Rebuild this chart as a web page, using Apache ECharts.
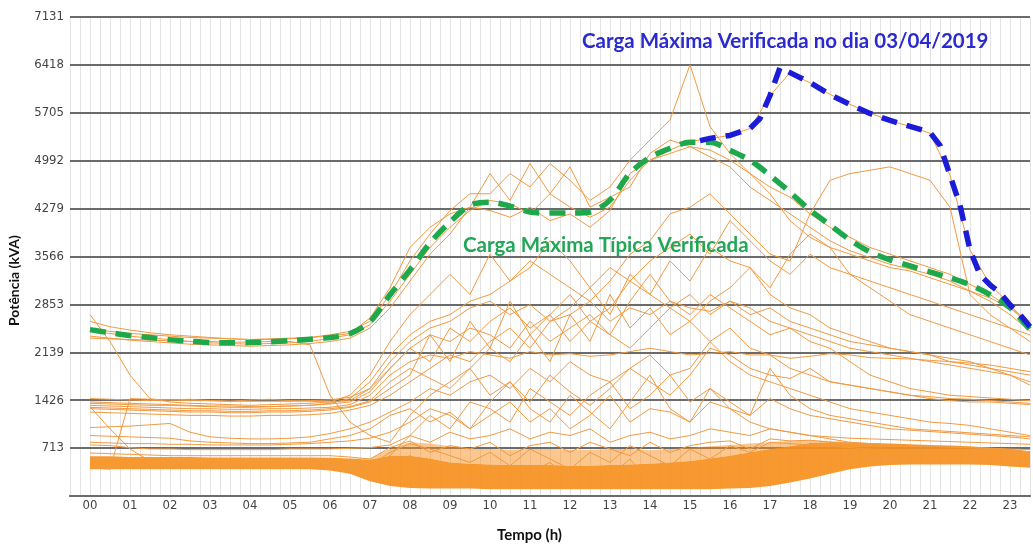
<!DOCTYPE html>
<html><head><meta charset="utf-8">
<script src="https://cdn.jsdelivr.net/npm/echarts@6/dist/echarts.min.js"></script>
<style>html,body{margin:0;padding:0;background:#fff}#c{width:1033px;height:547px}</style>
</head><body><div id="c"></div>
<script>
// Hour tick labels (x) and potency tick labels (y)
const hourLabels = ['00','01','02','03','04','05','06','07','08','09','10','11','12','13','14','15','16','17','18','19','20','21','22','23'];
const yTickLabels = ['', '713', '1426', '2139', '2853', '3566', '4279', '4992', '5705', '6418', '7131'];

// Half-hourly samples (00:00, 00:30, ... 23:30), kVA
const typicalMax = [2477,2430, 2388,2358, 2328,2305, 2284,2280, 2284,2295, 2313,2335, 2358,2417, 2595,2996, 3366,3767, 4078,4330, 4375,4316, 4227,4212, 4212,4227, 4405,4805, 5042,5176, 5265,5265, 5146,4998, 4775,4523, 4256,4034, 3811,3633, 3515,3426, 3337,3248, 3144,2996, 2803,2477];

// Max day 03/04/2019 (visible part), own time stamps
const maxDayTimes  = [15.25, 15.5, 16.0, 16.5, 16.75, 17.0, 17.25, 17.5, 18.0, 18.5, 19.0, 19.5, 20.0, 20.5, 21.0, 21.25, 21.5, 21.75, 22.0, 22.25, 22.5, 22.75, 23.0, 23.25, 23.5];
const maxDayValues = [5290, 5324, 5368, 5472, 5620, 5962, 6377, 6303, 6154, 5976, 5828, 5695, 5591, 5502, 5413, 5220, 4775, 4330, 3663, 3292, 3144, 3025, 2847, 2699, 2521];

// Daily curves (orange), half-hourly
const dayA = [2600,2520, 2470,2430, 2400,2380, 2360,2340, 2330,2340, 2350,2360, 2400,2450, 2600,3000, 3500,3900, 4250,4500, 4500,4800, 4600,4950, 4700,4400, 4600,5000, 5300,5600, 6418,5500, 5100,4800, 4600,4450, 4200,4000, 3850,3700, 3600,3500, 3400,3300, 3150,3000, 2800,2550];
const dayB = [2450,2420, 2380,2350, 2330,2300, 2280,2270, 2260,2270, 2280,2300, 2350,2400, 2550,2900, 3300,3700, 4000,4250, 4400,4350, 4200,4500, 4300,4150, 4300,4700, 5000,5150, 5280,5320, 5370,5470, 5960,6300, 6150,5980, 5830,5700, 5590,5500, 5400,4775, 3660,3150, 2850,2520];
const dayC = [2380,2350, 2320,2300, 2280,2260, 2250,2240, 2230,2240, 2250,2270, 2300,2350, 2500,2800, 3200,3600, 3900,4300, 4800,4400, 4950,4500, 4900,4300, 4450,4600, 5100,5300, 5200,5050, 4900,4600, 4400,4200, 4000,3800, 3650,3550, 3450,3380, 3300,3200, 3050,2900, 2700,2450];
const dayD = [2500,2450, 2420,2400, 2380,2360, 2350,2340, 2330,2330, 2340,2360, 2380,2420, 2650,3100, 3700,4000, 4200,4300, 4250,4150, 4300,4100, 4200,4000, 4250,4800, 5000,5100, 5200,5150, 5000,4800, 4500,4100, 3850,3700, 3600,3500, 3400,3350, 3250,3150, 3050,2950, 2800,2600];
const dayE = [1400,1390, 1380,1370, 1360,1350, 1340,1340, 1330,1330, 1340,1350, 1380,1450, 1700,2100, 2400,2600, 2700,2900, 3000,3200, 3500,3300, 3100,2900, 3200,3600, 3800,4200, 4300,4500, 4200,3900, 3600,3500, 4200,4700, 4800,4850, 4900,4800, 4700,4300, 3000,2700, 2500,2300];
const dayF = [1450,1440, 1430,1420, 1430,1440, 1420,1410, 1430,1440, 1420,1410, 1400,1420, 1600,2000, 2300,2500, 2600,2800, 2900,2700, 2850,2600, 2700,2900, 2600,2800, 2700,2900, 2800,2750, 2900,2800, 2600,2500, 2400,2300, 2200,2150, 2100,2050, 2000,1950, 1900,1850, 1800,1700];
const dayG = [1350,1340, 1330,1320, 1310,1300, 1300,1290, 1290,1300, 1300,1310, 1320,1360, 1500,1800, 2000,2100, 2050,2150, 2100,2050, 2150,2100, 2120,2080, 2100,2150, 2200,2150, 2100,2120, 2150,2100, 2100,2050, 2080,2120, 2100,2060, 2050,2040, 2020,2000, 1980,1950, 1900,1850];
const dayH = [1320,1310, 1300,1290, 1280,1270, 1270,1260, 1260,1270, 1270,1280, 1300,1330, 1420,1700, 1900,1750, 1600,1900, 1500,1700, 1400,1800, 1550,1350, 1600,1900, 1700,1500, 1800,2200, 2100,1900, 1800,1750, 1900,1700, 1650,1600, 1550,1500, 1480,1450, 1440,1420, 1400,1380];
const dayI = [1380,1370, 1360,1350, 1350,1340, 1330,1320, 1320,1330, 1340,1350, 1370,1400, 1550,1900, 2200,2400, 2300,2500, 2400,2200, 2600,2300, 2500,2700, 2400,2200, 2500,2800, 3000,2700, 2900,2700, 2800,2600, 2500,2400, 2300,2250, 2200,2150, 2100,2050, 2000,1900, 1800,1650];
const dayJ = [1020,1030, 1040,1060, 1080,950, 880,860, 850,850, 860,880, 930,1000, 1100,1250, 1400,1600, 1500,1700, 1800,1600, 1900,1700, 2000,1800, 1700,1900, 2100,1800, 1900,2300, 2000,1800, 1700,1600, 1500,1400, 1300,1250, 1200,1150, 1100,1080, 1050,1000, 950,900];
const dayK = [900,890, 880,870, 860,820, 800,790, 780,780, 790,800, 850,900, 1000,1200, 1300,1100, 1250,1000, 1200,1400, 1100,1300, 1000,1200, 1500,1100, 1300,1250, 1100,1400, 1300,1200, 1450,1300, 1200,1150, 1100,1050, 1000,980, 960,940, 920,900, 880,850];
const dayL = [760,750, 720,700, 700,690, 690,690, 690,690, 700,700, 700,710, 720,760, 900,800, 950,850, 900,1000, 850,950, 900,1000, 800,900, 950,850, 900,1000, 950,900, 1000,950, 900,850, 800,780, 760,750, 740,730, 720,710, 700,690];
const dayM = [2700,2300, 1800,1450, 1400,1380, 1370,1360, 1350,1360, 1370,1380, 1400,1500, 1800,2300, 2700,3000, 3300,3000, 3600,3200, 3400,3800, 3500,3100, 3400,3200, 3500,3700, 3900,3600, 4100,3800, 3500,3300, 3600,3400, 3300,3200, 3100,3000, 2900,2800, 2700,2600, 2500,2400];
const dayN = [2350,2340, 2330,2320, 2310,2300, 2300,2290, 2290,2300, 2300,2250, 1500,1100, 900,800, 1200,1500, 1700,1900, 2200,2000, 2400,2700, 3000,2600, 2800,3200, 3000,2800, 2600,2900, 3100,3400, 3000,2800, 2700,2500, 2400,2300, 2200,2150, 2100,2000, 1950,1900, 1850,1800];
const dayO = [560,550, 550,545, 540,540, 535,535, 530,530, 530,530, 520,500, 450,650, 780,700, 600,500, 650,450, 700,550, 400,650, 500,750, 600,450, 700,550, 750,650, 800,780, 760,740, 720,700, 690,680, 670,660, 650,640, 620,600];
const dayP = [450,450, 445,440, 440,440, 435,435, 430,430, 430,430, 420,380, 300,500, 600,400, 300,250, 400,200, 350,500, 250,400, 300,550, 200,350, 450,250, 500,350, 600,550, 650,600, 580,560, 560,550, 540,540, 530,520, 510,480];
const dayQ = [640,630, 620,610, 600,600, 600,600, 600,600, 600,600, 600,580, 550,720, 820,650, 750,700, 800,600, 750,800, 650,800, 700,600, 800,650, 750,800, 820,700, 850,820, 830,800, 780,760, 760,750, 740,730, 720,710, 690,660];
const dayR = [1300,1290, 1280,1270, 1260,1250, 1250,1240, 1240,1250, 1250,1260, 1280,1320, 1400,1600, 1800,2400, 2000,2600, 2200,2900, 2400,2000, 2700,2300, 3000,2500, 2800,2400, 2600,2300, 2500,2200, 2100,1900, 1800,1700, 1650,1600, 1550,1500, 1450,1420, 1400,1400, 1380,1360];
const dayS = [1250,1240, 1230,1220, 1210,1200, 1200,1190, 1190,1200, 1200,1210, 1230,1280, 1350,1500, 1700,1900, 2100,2000, 2300,2500, 2200,2600, 2800,3100, 2700,3300, 3000,3500, 3200,3700, 3500,3400, 3100,3600, 3900,3700, 3300,3100, 2900,2700, 2600,2500, 2400,2300, 2200,2100, 2000,1900];
const dayT = [800,790, 780,780, 770,770, 760,760, 760,760, 770,780, 800,820, 860,950, 1100,1300, 1200,1000, 1400,1700, 1300,1100, 1500,1250, 1000,1400, 1800,1300, 1100,1600, 1400,1200, 1900,1500, 1300,1200, 1150,1100, 1050,1000, 980,960, 940,920, 900,880];
const dayU = [1330,1000, 700,520, 500,490, 480,480, 480,480, 480,480, 470,460, 420,600, 900,1200, 1000,1400, 1300,1100, 1600,1400, 1200,1500, 1700,1300, 1500,1800, 1400,1600, 1300,1100, 1000,950, 900,880, 860,850, 840,830, 820,810, 800,790, 780,770];
const dayV = [420,400, 1450,1440, 1430,1420, 1420,1410, 1410,1410, 1410,1420, 1430,1470, 1600,1900, 2200,2000, 2500,2300, 2600,2800, 2500,2700, 2300,2600, 2400,2900, 3300,2900, 2700,3000, 2800,2600, 2400,2500, 2300,2200, 2000,1800, 1700,1600, 1550,1500, 1480,1460, 1440,1420];

// Dense band of low-load feeders: lower edge, top of the solid core, upper edge (half-hourly)
const bandLow  = [400,400, 400,400, 400,400, 400,400, 400,400, 400,400, 380,330, 220,150, 120,110, 110,110, 100,100, 100,100, 100,100, 100,100, 100,100, 100,100, 110,120, 150,200, 260,330, 400,440, 460,470, 470,470, 470,460, 440,420];
const bandMid  = [590,590, 580,580, 580,580, 575,575, 575,575, 575,575, 570,560, 540,600, 600,560, 500,480, 470,460, 460,460, 450,450, 460,470, 480,500, 520,560, 600,650, 700,740, 790,800, 800,790, 780,770, 760,750, 740,720, 700,660];
const bandHigh = [590,590, 580,580, 580,580, 575,575, 575,575, 575,575, 570,560, 560,700, 800,780, 740,700, 700,690, 700,700, 690,690, 700,700, 680,700, 720,740, 760,780, 800,820, 830,820, 800,790, 780,770, 760,750, 740,720, 700,660];

const orangeDays = [dayA, dayB, dayC, dayD, dayE, dayF, dayG, dayH, dayI, dayJ, dayK, dayL, dayM, dayN, dayO, dayP, dayQ, dayR, dayS, dayT, dayU, dayV];
const ORANGE = '#f29a40';

const toPts = arr => arr.map((v, i) => [i * 0.5, v]);

function bandSeries(lower, upper, opacity) {
  return {
    type: 'custom', silent: true, z: 2, clip: true,
    data: [[0, 0]], encode: { x: 0, y: 1 },
    renderItem: (params, api) => {
      const pts = [];
      upper.forEach((v, i) => pts.push(api.coord([i * 0.5, v])));
      for (let i = lower.length - 1; i >= 0; i--) pts.push(api.coord([i * 0.5, lower[i]]));
      return { type: 'polygon', shape: { points: pts }, style: { fill: '#f7901e', opacity: opacity } };
    }
  };
}

const series = [];
series.push(bandSeries(bandLow, bandMid, 0.92));
series.push(bandSeries(bandMid, bandHigh, 0.5));
// all daily curves as polylines through the axes' scales
series.push({
  type: 'custom', silent: true, z: 3, clip: true,
  data: orangeDays.map((d, k) => [0, d[0], k]), encode: { x: 0, y: 1 },
  renderItem: (params, api) => {
    const d = orangeDays[params.dataIndex];
    return {
      type: 'polyline',
      shape: { points: d.map((v, i) => api.coord([i * 0.5, v])) },
      style: { stroke: ORANGE, lineWidth: 1, fill: null }
    };
  }
});
series.push({
  type: 'line', data: toPts(typicalMax), symbol: 'none', smooth: 0.3, silent: true,
  itemStyle: { color: '#1ea84c' },
  lineStyle: { color: '#1ea84c', width: 5.5, type: [16, 10] }, z: 5
});
series.push({
  type: 'line', data: maxDayTimes.map((t, i) => [t, maxDayValues[i]]), symbol: 'none', silent: true,
  itemStyle: { color: '#1c1cd6' },
  lineStyle: { color: '#1c1cd6', width: 5.5, type: [16, 10] }, z: 6
});

const chart = echarts.init(document.getElementById('c'), null, { renderer: 'canvas' });
chart.setOption({
  animation: false,
  backgroundColor: '#ffffff',
  grid: { left: 70, top: 17, width: 966, height: 479 },
  xAxis: {
    type: 'value', min: -0.5, max: 23.5, interval: 0.25, z: 0,
    axisLine: { show: true, lineStyle: { color: '#555', width: 2 } },
    axisTick: { show: false },
    splitLine: { show: true, lineStyle: { color: '#e3e3e3', width: 1 } },
    axisLabel: {
      color: '#444', fontSize: 13, fontFamily: '"Liberation Sans Narrow","DejaVu Sans Condensed",sans-serif', margin: 3,
      formatter: v => { const r = Math.round(v * 100) / 100; return (Number.isInteger(r) && r >= 0 && r < hourLabels.length) ? hourLabels[r] : ''; }
    }
  },
  yAxis: {
    type: 'value', min: 0, max: 7131, interval: 713.1, z: 1,
    axisLine: { show: false }, axisTick: { show: false },
    splitLine: { show: true, lineStyle: { color: '#6b6b6b', width: 2 } },
    axisLabel: {
      color: '#444', fontSize: 13, fontFamily: '"Liberation Sans Narrow","DejaVu Sans Condensed",sans-serif', margin: 6,
      formatter: v => yTickLabels[Math.round(v / 713.1)] || ''
    }
  },
  graphic: [
    { type: 'text', left: 582, top: 31, style: { text: 'Carga Máxima Verificada no dia 03/04/2019', fill: '#2a2ad0', font: 'bold 20.5px Lato, "Open Sans", sans-serif' }, z: 10 },
    { type: 'text', left: 463, top: 235, style: { text: 'Carga Máxima Típica Verificada', fill: '#22a657', font: 'bold 20.5px Lato, "Open Sans", sans-serif' }, z: 10 },
    { type: 'text', left: 497, top: 528, style: { text: 'Tempo (h)', fill: '#111', font: 'bold 15px Lato, "Open Sans", sans-serif' }, z: 10 },
    { type: 'text', x: 7, y: 326, rotation: Math.PI / 2, style: { text: 'Potência (kVA)', fill: '#111', font: 'bold 14px Lato, "Open Sans", sans-serif' }, z: 10 }
  ],
  series
});
</script></body></html>
